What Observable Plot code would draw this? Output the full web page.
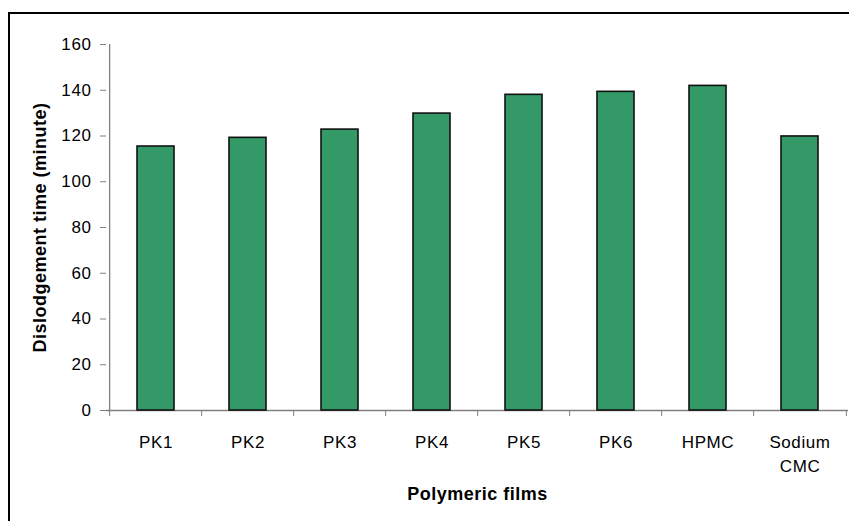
<!DOCTYPE html>
<html>
<head>
<meta charset="utf-8">
<script src="https://cdn.jsdelivr.net/npm/d3@7"></script>
<script src="https://cdn.jsdelivr.net/npm/@observablehq/plot@0.6"></script>
<style>
  html, body { margin: 0; padding: 0; background: #fff; }
  #wrap { position: relative; width: 849px; height: 521px; overflow: hidden; }
  #border { position: absolute; left: 8px; top: 12px; width: 900px; height: 600px;
            border-left: 2px solid #000; border-top: 2px solid #000; }
  #chart { position: absolute; left: 0; top: 0; }
</style>
</head>
<body>
<div id="wrap"><div id="border"></div><div id="chart"></div></div>
<script>
const categories = ["PK1", "PK2", "PK3", "PK4", "PK5", "PK6", "HPMC", "Sodium CMC"];
const tickLabels = ["PK1", "PK2", "PK3", "PK4", "PK5", "PK6", "HPMC", "Sodium\nCMC"];
const times = [115.4, 119.2, 122.8, 129.8, 138, 139.3, 141.9, 119.8];
const yTicks = [0, 20, 40, 60, 80, 100, 120, 140, 160];
const xTitle = "Polymeric films";
const yTitle = "Dislodgement time (minute)";

const data = categories.map((c, i) => ({film: c, time: times[i]}));
const W = 849, H = 521, ML = 106, MR = 1, MT = 44, MB = 111;
const step = (W - ML - MR) / categories.length;
const labelOf = new Map(categories.map((c, i) => [c, tickLabels[i]]));

const chart = Plot.plot({
  width: W, height: H,
  marginLeft: ML, marginRight: MR, marginTop: MT, marginBottom: MB,
  style: {fontFamily: "'Liberation Sans', Arial, sans-serif", fontSize: "17px", letterSpacing: "0.6px", background: "transparent", color: "#000"},
  x: {domain: categories, paddingInner: 0.6, paddingOuter: 0.3, label: null},
  y: {domain: [0, 160], label: null},
  marks: [
    Plot.ruleY([0], {stroke: "#808080", strokeWidth: 1.3}),
    Plot.ruleX([categories[0]], {dx: -step / 2, y1: 0, y2: 160, stroke: "#808080", strokeWidth: 1.3}),
    Plot.axisY({ticks: yTicks, tickSize: 6, tickPadding: 9, stroke: "#808080", fill: "#000", label: null, fontSize: 17}),
    Plot.axisX({ticks: categories, tickSize: 6, tickFormat: () => "", dx: -step / 2, stroke: "#808080", label: null}),
    Plot.axisX({ticks: [categories[categories.length - 1]], tickSize: 6, tickFormat: () => "", dx: step / 2, stroke: "#808080", label: null}),
    Plot.axisX({ticks: categories, tickSize: 0, tickPadding: 20, tickFormat: d => labelOf.get(d), lineHeight: 1.42, fill: "#000", label: null, fontSize: 17}),
    Plot.barY(data, {x: "film", y: "time", fill: "#339966", stroke: "#111", strokeWidth: 1.6}),
    Plot.text([yTitle], {frameAnchor: "left", dx: -66, rotate: -90, fontWeight: "bold", fontSize: 18, fill: "#000", textAnchor: "middle", lineAnchor: "middle"}),
    Plot.text([xTitle], {frameAnchor: "bottom", dy: 84, fontWeight: "bold", fontSize: 18, fill: "#000", textAnchor: "middle", lineAnchor: "middle"})
  ]
});
chart.querySelectorAll("text").forEach(t => {
  if (t.closest("[font-weight='bold']") || t.getAttribute("font-weight") === "bold") t.style.letterSpacing = "0.5px";
});
document.getElementById("chart").appendChild(chart);
</script>
</body>
</html>
